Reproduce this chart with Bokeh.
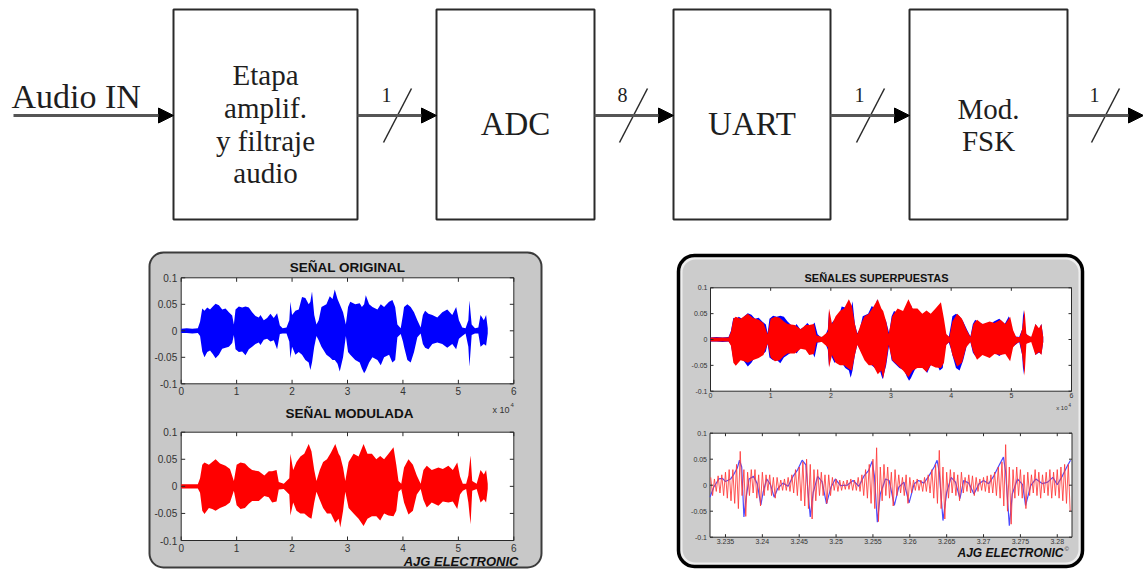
from bokeh.plotting import figure
from bokeh.models import Range1d, Arrow, NormalHead
from bokeh.core.properties import value
from bokeh.embed import file_html
from bokeh.resources import INLINE

# ---------------- data ----------------
input_label = "Audio IN"
block_lines = [["Etapa", "amplif.", "y filtraje", "audio"], ["ADC"], ["UART"], ["Mod.", "FSK"]]
bus_widths = ["1", "8", "1", "1"]
panel_titles = ["SEÑAL ORIGINAL", "SEÑAL MODULADA", "SEÑALES SUPERPUESTAS"]
brand = "AJG ELECTRONIC"

# original audio (blue) : envelope (sample index, upper, lower)
orig_x = [0, 1000, 2000, 3000, 3400, 3800, 4200, 4700, 5200, 5700,
          6200, 6800, 7400, 8000, 8600, 9200, 9500, 9800, 10400, 11000,
          11600, 12200, 12800, 13400, 14000, 14300, 14900, 15500, 16100, 16700,
          17300, 17800, 18300, 19000, 19500, 19700, 20000, 20600, 21200, 21800,
          22400, 23000, 23300, 23600, 24000, 24400, 24800, 25300, 26200, 26800,
          27300, 27700, 28200, 28600, 29200, 29700, 30100, 30500, 31400, 32200,
          32600, 33000, 33300, 33900, 34500, 35400, 36000, 36600, 37500, 38100,
          38600, 39000, 39600, 40000, 40200, 40800, 41400, 42000, 42600, 43200,
          43600, 44000, 44600, 45300, 46200, 47100, 48000, 48900, 49600, 50100,
          50700, 51300, 51800, 52000, 52400, 53000, 53600, 54000, 54600, 55000,
          55300]
orig_hi = [0.004, 0.005, 0.004, 0.005, 0.017, 0.042, 0.038, 0.044, 0.040, 0.046,
           0.051, 0.048, 0.040, 0.042, 0.035, 0.029, 0.012, 0.040, 0.046, 0.044,
           0.046, 0.044, 0.035, 0.028, 0.025, 0.030, 0.020, 0.024, 0.032, 0.024,
           0.033, 0.010, 0.005, 0.006, 0.020, 0.055, 0.030, 0.038, 0.040, 0.064,
           0.062, 0.050, 0.055, 0.074, 0.030, 0.012, 0.020, 0.045, 0.050, 0.065,
           0.060, 0.078, 0.060, 0.050, 0.035, 0.012, 0.045, 0.055, 0.050, 0.052,
           0.045, 0.050, 0.067, 0.050, 0.045, 0.040, 0.050, 0.045, 0.055, 0.058,
           0.045, 0.012, 0.005, 0.030, 0.045, 0.050, 0.045, 0.035, 0.020, 0.006,
           0.030, 0.038, 0.032, 0.030, 0.025, 0.035, 0.040, 0.030, 0.045, 0.020,
           0.006, 0.005, 0.020, 0.057, 0.012, 0.005, 0.006, 0.030, 0.020, 0.030,
           0.005]
orig_lo = [-0.004, -0.004, -0.005, -0.004, -0.010, -0.039, -0.050, -0.040, -0.037, -0.044,
           -0.052, -0.045, -0.034, -0.032, -0.030, -0.023, -0.008, -0.035, -0.040, -0.039,
           -0.046, -0.035, -0.030, -0.025, -0.022, -0.027, -0.017, -0.015, -0.020, -0.018,
           -0.035, -0.006, -0.005, -0.005, -0.020, -0.052, -0.030, -0.045, -0.040, -0.045,
           -0.055, -0.060, -0.074, -0.060, -0.030, -0.010, -0.018, -0.030, -0.045, -0.050,
           -0.055, -0.055, -0.062, -0.077, -0.050, -0.010, -0.040, -0.045, -0.055, -0.060,
           -0.071, -0.080, -0.075, -0.060, -0.050, -0.055, -0.065, -0.050, -0.045, -0.060,
           -0.055, -0.012, -0.006, -0.020, -0.030, -0.055, -0.060, -0.040, -0.012, -0.005,
           -0.025, -0.032, -0.035, -0.025, -0.022, -0.025, -0.032, -0.025, -0.035, -0.015,
           -0.010, -0.005, -0.030, -0.068, -0.008, -0.005, -0.005, -0.030, -0.025, -0.028,
           -0.005]

# FSK-modulated/demodulated audio (red) : envelope
mod_x = [0, 3000, 3400, 3800, 4200, 5000, 5600, 6200, 7000, 8000,
         8800, 9500, 10000, 10700, 11500, 12200, 12800, 14000, 15000, 15800,
         16400, 17200, 17600, 18500, 19500, 19700, 20200, 20800, 21500, 22200,
         23000, 23500, 24000, 24400, 25000, 25600, 26300, 27000, 27800, 28400,
         28700, 29200, 29600, 30200, 31100, 32000, 32900, 33600, 34400, 35200,
         35900, 36600, 37400, 38300, 38800, 39200, 39700, 40200, 41000, 41800,
         42500, 43200, 43700, 44300, 45200, 46400, 47200, 48200, 49000, 49800,
         50300, 50800, 51400, 51800, 52200, 52500, 53300, 54000, 54600, 55000,
         55300]
mod_hi = [0.004, 0.004, 0.015, 0.040, 0.044, 0.040, 0.045, 0.050, 0.042, 0.038,
          0.032, 0.010, 0.040, 0.044, 0.042, 0.035, 0.030, 0.028, 0.020, 0.028,
          0.028, 0.030, 0.008, 0.005, 0.015, 0.060, 0.030, 0.045, 0.055, 0.060,
          0.078, 0.065, 0.030, 0.010, 0.030, 0.045, 0.050, 0.062, 0.078, 0.060,
          0.055, 0.035, 0.010, 0.045, 0.060, 0.055, 0.078, 0.060, 0.060, 0.050,
          0.056, 0.050, 0.060, 0.072, 0.040, 0.010, 0.005, 0.035, 0.050, 0.040,
          0.020, 0.005, 0.030, 0.038, 0.030, 0.035, 0.032, 0.038, 0.030, 0.044,
          0.018, 0.005, 0.005, 0.020, 0.057, 0.010, 0.005, 0.030, 0.022, 0.030,
          0.005]
mod_lo = [-0.004, -0.004, -0.012, -0.045, -0.051, -0.040, -0.042, -0.045, -0.040, -0.036,
          -0.030, -0.008, -0.035, -0.042, -0.040, -0.032, -0.027, -0.027, -0.018, -0.020,
          -0.030, -0.028, -0.006, -0.005, -0.015, -0.054, -0.030, -0.045, -0.050, -0.050,
          -0.057, -0.060, -0.030, -0.010, -0.025, -0.040, -0.050, -0.050, -0.067, -0.060,
          -0.076, -0.045, -0.010, -0.040, -0.050, -0.060, -0.073, -0.060, -0.055, -0.055,
          -0.063, -0.050, -0.054, -0.055, -0.045, -0.010, -0.005, -0.030, -0.052, -0.045,
          -0.015, -0.005, -0.025, -0.039, -0.030, -0.036, -0.028, -0.030, -0.028, -0.042,
          -0.015, -0.008, -0.005, -0.030, -0.070, -0.008, -0.005, -0.030, -0.024, -0.030,
          -0.005]

# zoomed window: original (blue line) and modulated (red oscillation peaks)
zoom_blue_x = [32329, 32334, 32341, 32346, 32350, 32357, 32361, 32366, 32369, 32372,
               32375, 32378, 32382, 32388, 32393, 32398, 32401, 32406, 32411, 32416,
               32421, 32428, 32435, 32442, 32448, 32454, 32459, 32462, 32465, 32469,
               32475, 32481, 32487, 32493, 32499, 32506, 32515, 32523, 32531, 32538,
               32544, 32549, 32552, 32556, 32560, 32567, 32572, 32579, 32585, 32592,
               32599, 32606, 32612, 32619, 32626, 32633, 32637, 32640, 32645, 32650,
               32656, 32662, 32668, 32673, 32680, 32687, 32694, 32700, 32707, 32714,
               32721, 32727, 32730, 32735, 32739, 32746, 32753, 32757, 32764, 32771,
               32780, 32787, 32794, 32800, 32807, 32814, 32818]
zoom_blue_y = [-0.023, -0.004, 0.012, 0.013, 0.007, 0.012, 0.020, 0.033, 0.048, 0.035,
               -0.061, -0.023, 0.012, 0.017, 0.003, -0.038, -0.014, 0.012, 0.001, -0.023,
               -0.006, 0.004, -0.002, 0.018, 0.030, 0.048, 0.039, -0.014, -0.061, -0.014,
               0.017, 0.007, -0.036, -0.004, 0.012, -0.001, 0.000, 0.009, -0.002, 0.018,
               0.028, 0.046, 0.018, -0.071, -0.017, 0.012, 0.009, -0.039, -0.004, 0.006,
               -0.034, 0.003, 0.009, 0.004, 0.018, 0.035, 0.048, 0.025, -0.068, -0.014,
               0.015, 0.006, -0.026, 0.009, 0.004, -0.017, 0.003, 0.009, 0.003, 0.018,
               0.038, 0.054, 0.025, -0.078, -0.017, 0.012, 0.001, -0.039, -0.001, 0.012,
               0.003, 0.006, 0.015, 0.001, 0.018, 0.038, 0.048]
zoom_red_x = list(range(32330, 32820, 5))
zoom_red_hi = [0.015, 0.012, 0.018, 0.020, 0.025, 0.030, 0.030, 0.040, 0.065, 0.030,
               0.025, 0.030, 0.030, 0.020, 0.025, 0.020, 0.020, 0.015, 0.015, 0.010,
               0.012, 0.015, 0.020, 0.030, 0.035, 0.045, 0.050, 0.040, 0.030, 0.030,
               0.025, 0.020, 0.020, 0.015, 0.012, 0.010, 0.008, 0.010, 0.012, 0.010,
               0.015, 0.020, 0.030, 0.040, 0.050, 0.072, 0.035, 0.040, 0.035, 0.025,
               0.030, 0.020, 0.015, 0.020, 0.015, 0.010, 0.012, 0.010, 0.015, 0.020,
               0.030, 0.040, 0.067, 0.035, 0.025, 0.030, 0.025, 0.020, 0.025, 0.015,
               0.020, 0.018, 0.015, 0.012, 0.015, 0.018, 0.020, 0.025, 0.035, 0.045,
               0.078, 0.035, 0.030, 0.035, 0.030, 0.020, 0.025, 0.020, 0.030, 0.025,
               0.020, 0.025, 0.030, 0.025, 0.030, 0.035, 0.040, 0.040]
zoom_red_lo = [-0.020, -0.012, -0.015, -0.020, -0.025, -0.030, -0.035, -0.045, -0.020, -0.060,
               -0.020, -0.015, -0.025, -0.040, -0.020, -0.010, -0.020, -0.025, -0.010, -0.010,
               -0.010, -0.012, -0.015, -0.020, -0.030, -0.040, -0.045, -0.065, -0.030, -0.020,
               -0.020, -0.035, -0.020, -0.010, -0.012, -0.010, -0.008, -0.008, -0.010, -0.010,
               -0.012, -0.020, -0.025, -0.035, -0.045, -0.070, -0.030, -0.020, -0.025, -0.040,
               -0.020, -0.015, -0.020, -0.035, -0.015, -0.010, -0.010, -0.012, -0.012, -0.015,
               -0.025, -0.035, -0.045, -0.065, -0.025, -0.015, -0.020, -0.030, -0.015, -0.012,
               -0.015, -0.020, -0.012, -0.010, -0.012, -0.015, -0.015, -0.020, -0.025, -0.040,
               -0.050, -0.075, -0.025, -0.020, -0.025, -0.045, -0.020, -0.015, -0.020, -0.025,
               -0.015, -0.020, -0.025, -0.020, -0.025, -0.030, -0.035, -0.050]

full_xlim = (0, 60000)
zoom_xlim = (32329, 32820)
amp_lim = (-0.1, 0.1)
full_xticks = [0, 10000, 20000, 30000, 40000, 50000, 60000]
full_xtick_labels = ["0", "1", "2", "3", "4", "5", "6"]
zoom_xticks = [32350, 32400, 32450, 32500, 32550, 32600, 32650, 32700, 32750, 32800]
zoom_xtick_labels = ["3.235", "3.24", "3.245", "3.25", "3.255", "3.26", "3.265", "3.27", "3.275", "3.28"]
yticks = [-0.1, -0.05, 0.0, 0.05, 0.1]
ytick_labels = ["-0.1", "-0.05", "0", "0.05", "0.1"]

# ---------------- styles / layout ----------------
SERIF = value("Liberation Serif")
SANS = value("Liberation Sans")
NARROW = value("Liberation Sans Narrow, Liberation Sans")
INK = "#1e1e1e"

p = figure(width=1143, height=569, x_range=Range1d(0, 1143), y_range=Range1d(569, 0),
           output_backend="svg", toolbar_location=None, min_border=0,
           x_axis_type=None, y_axis_type=None)
p.outline_line_color = None
p.background_fill_color = "white"
p.border_fill_color = "white"

# ---- block diagram ----
box_left = [173, 436, 673, 909]
box_right = [357, 594, 830, 1067]
box_top, box_bottom = 9, 219
p.quad(left=box_left, right=box_right, top=[box_top] * 4, bottom=[box_bottom] * 4,
       fill_color="white", line_color="#2a2a2a", line_width=2)
line_y = [[74, 107, 140, 172], [123], [123], [108, 140]]
line_size = ["29px", "33px", "33px", "29px"]
for i, lines in enumerate(block_lines):
    cx = (box_left[i] + box_right[i]) / 2
    p.text(x=[cx] * len(lines), y=line_y[i], text=lines, text_font=SERIF,
           text_font_size=line_size[i], text_align="center", text_baseline="middle",
           text_color=INK)

p.text(x=[11], y=[96], text=[input_label], text_font=SERIF, text_font_size="34px",
       text_align="left", text_baseline="middle", text_color=INK)

arrow_y = 115
arrow_spans = [(13, 173), (357, 436), (594, 673), (830, 909), (1067, 1143)]
for x0, x1 in arrow_spans:
    p.add_layout(Arrow(x_start=x0, y_start=arrow_y, x_end=x1, y_end=arrow_y,
                       line_color="#555555", line_width=3,
                       end=NormalHead(size=15, fill_color="black", line_color="black", line_width=1)))

slash_x = [383, 619, 856, 1091]
p.segment(x0=slash_x, y0=[142] * 4, x1=[x + 28 for x in slash_x], y1=[88] * 4,
          line_color="#2a2a2a", line_width=1.5)
p.text(x=[x + 3 for x in slash_x], y=[94] * 4, text=bus_widths, text_font=SERIF,
       text_font_size="20px", text_align="center", text_baseline="middle", text_color=INK)

# ---- panels ----
p.quad(left=[149], right=[541], top=[252], bottom=[567], fill_color="#c8c8c8",
       line_color="#3c3c3c", line_width=2, border_radius=14)
p.quad(left=[678], right=[1082], top=[255], bottom=[566], fill_color="#eeeeee",
       line_color="#000000", line_width=3.5, border_radius=16)
p.quad(left=[682], right=[1078], top=[259], bottom=[562], fill_color="#cccccc",
       line_color=None, border_radius=13)


def make_axes(box, xlim):
    l, r, t, b = box
    p.quad(left=[l], right=[r], top=[t], bottom=[b], fill_color="white",
           line_color="#2a2a2a", line_width=1)
    return p.subplot(x_source=Range1d(*xlim), y_source=Range1d(*amp_lim),
                     x_target=Range1d(l, r), y_target=Range1d(b, t))


def draw_ticks(s, box, xlim, xt, xl, fs, xgap, ygap, tick_px):
    l, r, t, b = box
    dy = (amp_lim[1] - amp_lim[0]) / (b - t)
    dx = (xlim[1] - xlim[0]) / (r - l)
    n, m = len(xt), len(yticks)
    kw = dict(line_color="#2a2a2a", line_width=1)
    s.segment(x0=xt, y0=[amp_lim[0]] * n, x1=xt, y1=[amp_lim[0] + tick_px * dy] * n, **kw)
    s.segment(x0=xt, y0=[amp_lim[1]] * n, x1=xt, y1=[amp_lim[1] - tick_px * dy] * n, **kw)
    s.segment(x0=[xlim[0]] * m, y0=yticks, x1=[xlim[0] + tick_px * dx] * m, y1=yticks, **kw)
    s.segment(x0=[xlim[1]] * m, y0=yticks, x1=[xlim[1] - tick_px * dx] * m, y1=yticks, **kw)
    s.text(x=xt, y=[amp_lim[0] - ygap * dy] * n, text=xl, text_font=SANS, text_font_size=fs,
           text_align="center", text_baseline="top", text_color="#333333")
    s.text(x=[xlim[0] - xgap * dx] * m, y=yticks, text=ytick_labels, text_font=SANS,
           text_font_size=fs, text_align="right", text_baseline="middle", text_color="#333333")


box1 = (180.7, 513.3, 277.3, 383.3)
box2 = (180.7, 513.3, 431.7, 540.0)
box3 = (710.0, 1071.0, 287.3, 390.7)
box4 = (709.5, 1071.5, 432.7, 536.7)

s1 = make_axes(box1, full_xlim)
s1.varea(x=orig_x, y1=orig_lo, y2=orig_hi, fill_color="#0000ff")
draw_ticks(s1, box1, full_xlim, full_xticks, full_xtick_labels, "10px", 4, 3, 4)

s2 = make_axes(box2, full_xlim)
s2.varea(x=mod_x, y1=mod_lo, y2=mod_hi, fill_color="#ff0000")
draw_ticks(s2, box2, full_xlim, full_xticks, full_xtick_labels, "10px", 4, 3, 4)

s3 = make_axes(box3, full_xlim)
s3.varea(x=orig_x, y1=orig_lo, y2=orig_hi, fill_color="#0000ff")
s3.varea(x=mod_x, y1=mod_lo, y2=mod_hi, fill_color="#ff0000")
draw_ticks(s3, box3, full_xlim, full_xticks, full_xtick_labels, "7px", 3, 2, 3)

s4 = make_axes(box4, zoom_xlim)
zz_x, zz_y = [], []
for xv, hi, lo in zip(zoom_red_x, zoom_red_hi, zoom_red_lo):
    zz_x += [xv, xv + 2.5]
    zz_y += [hi, lo]
s4.line(x=zoom_blue_x, y=zoom_blue_y, line_color="#4b4bff", line_width=1.2)
s4.line(x=zz_x, y=zz_y, line_color="#ff3a3a", line_width=1, line_alpha=0.85)
draw_ticks(s4, box4, zoom_xlim, zoom_xticks, zoom_xtick_labels, "7px", 3, 1.5, 3)

# ---- panel texts ----
p.text(x=[347, 349], y=[267, 413], text=panel_titles[:2], text_font=SANS,
       text_font_size="13.5px", text_font_style="bold", text_align="center",
       text_baseline="middle", text_color="#111111")
p.text(x=[876], y=[277], text=[panel_titles[2]], text_font=SANS, text_font_size="11px",
       text_font_style="bold", text_align="center", text_baseline="middle",
       text_color="#111111")

p.text(x=[509], y=[409], text=["x 10"], text_font=SANS, text_font_size="9px",
       text_align="right", text_baseline="middle", text_color="#333333")
p.text(x=[510], y=[404], text=["4"], text_font=SANS, text_font_size="6px",
       text_align="left", text_baseline="middle", text_color="#333333")
p.text(x=[1067], y=[407], text=["x 10"], text_font=SANS, text_font_size="6px",
       text_align="right", text_baseline="middle", text_color="#333333")
p.text(x=[1068], y=[404], text=["4"], text_font=SANS, text_font_size="4.5px",
       text_align="left", text_baseline="middle", text_color="#333333")

p.text(x=[518], y=[561], text=[brand], text_font=SANS, text_font_size="13px",
       text_font_style="bold italic", text_align="right", text_baseline="middle",
       text_color="#111111")
p.text(x=[1063], y=[552], text=[brand], text_font=NARROW, text_font_size="12px",
       text_font_style="bold italic", text_align="right", text_baseline="middle",
       text_color="#111111")
p.text(x=[1064], y=[548], text=["©"], text_font=SANS, text_font_size="6px",
       text_align="left", text_baseline="middle", text_color="#333333")

open("out.html", "w").write(file_html(p, INLINE, "FSK audio"))
